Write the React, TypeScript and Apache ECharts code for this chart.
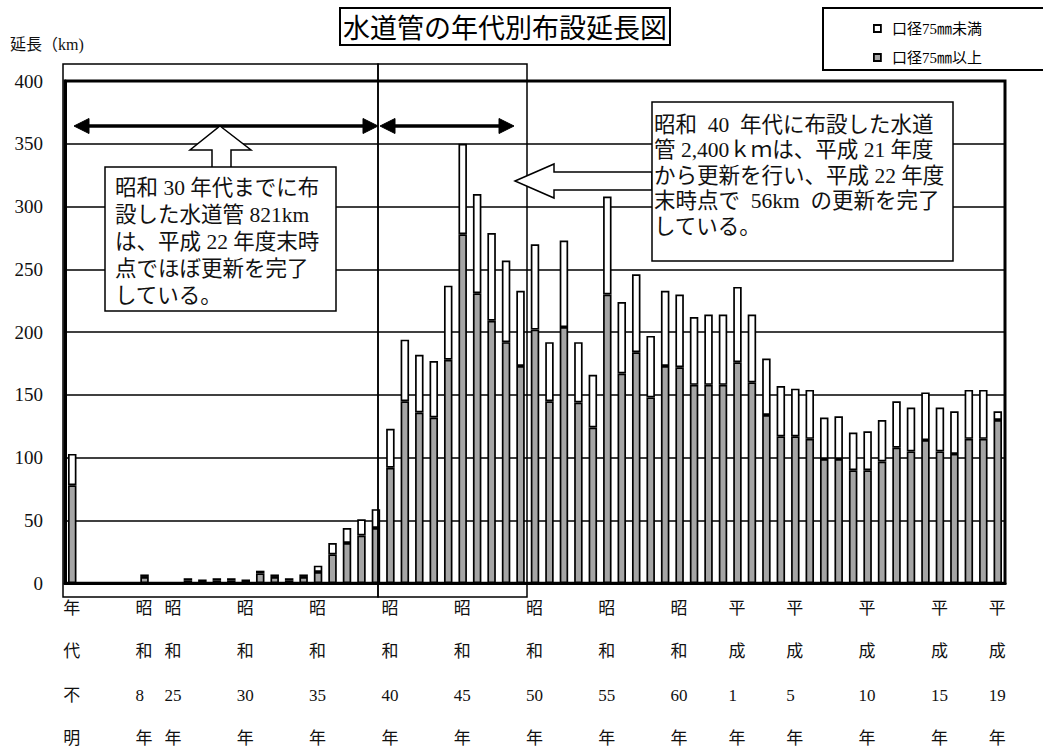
import React, { useEffect, useRef } from "react";
import * as echarts from "echarts";

// 65 categories; "" = unnamed slot in the source
const categories = [
  "年代不明", "", "", "", "", "昭和8年", "", "昭和25年", "昭和26年", "昭和27年",
  "昭和28年", "昭和29年", "昭和30年", "昭和31年", "昭和32年", "昭和33年", "昭和34年", "昭和35年", "昭和36年", "昭和37年",
  "昭和38年", "昭和39年", "昭和40年", "昭和41年", "昭和42年", "昭和43年", "昭和44年", "昭和45年", "昭和46年", "昭和47年",
  "昭和48年", "昭和49年", "昭和50年", "昭和51年", "昭和52年", "昭和53年", "昭和54年", "昭和55年", "昭和56年", "昭和57年",
  "昭和58年", "昭和59年", "昭和60年", "昭和61年", "昭和62年", "昭和63年", "平成1年", "平成2年", "平成3年", "平成4年",
  "平成5年", "平成6年", "平成7年", "平成8年", "平成9年", "平成10年", "平成11年", "平成12年", "平成13年", "平成14年",
  "平成15年", "平成16年", "平成17年", "平成18年", "平成19年",
];

const shownLabels = [
  "年代不明", "昭和8年", "昭和25年", "昭和30年", "昭和35年", "昭和40年", "昭和45年",
  "昭和50年", "昭和55年", "昭和60年", "平成1年", "平成5年", "平成10年", "平成15年", "平成19年",
];

// 口径75㎜以上 (grey, lower part), km
const over75 = [
  78, 0, 0, 0, 0, 5, 0, 0, 2, 1,
  2, 2, 1, 8, 5, 2, 5, 9, 23, 32,
  38, 44, 92, 145, 136, 132, 178, 278, 231, 209,
  192, 173, 202, 145, 204, 144, 124, 230, 167, 184,
  148, 173, 172, 158, 158, 158, 176, 160, 134, 117,
  117, 115, 99, 99, 90, 90, 97, 108, 105, 114,
  105, 103, 115, 115, 130,
];

// 口径75㎜未満 (white, upper part), km
const under75 = [
  25, 0, 0, 0, 0, 2, 0, 0, 2, 2,
  2, 2, 2, 2, 2, 2, 2, 5, 9, 12,
  13, 15, 31, 49, 46, 45, 59, 72, 79, 70,
  65, 60, 68, 47, 69, 48, 42, 78, 57, 62,
  49, 60, 58, 54, 56, 56, 60, 54, 45, 40,
  38, 39, 33, 34, 30, 31, 33, 37, 35, 38,
  35, 34, 39, 39, 7,
];

const yMin = 0;
const yMax = 400;
const yStep = 50;

const seriesNames = ["口径75㎜未満", "口径75㎜以上"];

const serif = "'Liberation Serif', 'Noto Sans CJK JP', serif";

export default function App() {
  const ref = useRef<HTMLDivElement>(null);

  useEffect(() => {
    const chart = echarts.init(ref.current!, null, { renderer: "svg" });

    const arrowHead = (tipX: number, tipY: number, dir: number) => ({
      type: "polygon",
      z: 100,
      shape: {
        points: [
          [tipX, tipY],
          [tipX + dir * 15, tipY - 7.5],
          [tipX + dir * 15, tipY + 7.5],
        ],
      },
      style: { fill: "#000", stroke: "#000", lineWidth: 1 },
    });

    chart.setOption({
      animation: false,
      backgroundColor: "#fff",
      title: {
        text: "水道管の年代別布設延長図",
        left: 340,
        top: 8,
        padding: [3, 3],
        borderColor: "#000",
        borderWidth: 2,
        textStyle: {
          fontSize: 27,
          lineHeight: 31,
          fontWeight: "normal",
          fontFamily: "'Noto Sans CJK JP', sans-serif",
          color: "#000",
        },
      },
      legend: {
        data: seriesNames,
        orient: "vertical",
        left: 868,
        top: 16,
        itemWidth: 7,
        itemHeight: 7,
        itemGap: 14,
        icon: "rect",
        itemStyle: { borderColor: "#000", borderWidth: 1.8 },
        textStyle: { fontSize: 15, fontFamily: serif, color: "#000", padding: [0, 0, 0, 6] },
      },
      grid: {
        left: 65,
        top: 81,
        width: 940,
        height: 505,
        show: true,
        borderColor: "#000",
        borderWidth: 3,
        backgroundColor: "transparent",
      },
      xAxis: {
        type: "category",
        data: categories,
        axisLine: { lineStyle: { color: "#000", width: 3 } },
        axisTick: { show: false },
        axisLabel: {
          interval: 0,
          margin: 3,
          formatter: (val: string) => {
            if (!shownLabels.includes(val)) return "";
            const parts = val.match(/\d+|./g) || [];
            return parts.map((p) => `{a|${p}}`).join("\n");
          },
          rich: {
            a: {
              fontSize: 17,
              fontFamily: serif,
              color: "#111",
              lineHeight: 43.5,
              width: 18,
              align: "left",
            },
          },
        },
      },
      yAxis: {
        type: "value",
        min: yMin,
        max: yMax,
        interval: yStep,
        axisLine: { show: true, lineStyle: { color: "#000", width: 3 } },
        axisTick: { show: false },
        axisLabel: { margin: 22, fontSize: 19, fontFamily: serif, color: "#111" },
        splitLine: { lineStyle: { color: "#000", width: 1.5 } },
      },
      series: [
        {
          name: seriesNames[1],
          type: "bar",
          stack: "total",
          data: over75,
          barWidth: 8.5,
          itemStyle: { color: "#a5a5a5", borderColor: "#000", borderWidth: 1.7 },
        },
        {
          name: seriesNames[0],
          type: "bar",
          stack: "total",
          data: under75,
          barWidth: 8.5,
          itemStyle: { color: "#ffffff", borderColor: "#000", borderWidth: 1.7 },
        },
      ],
      graphic: [
        // y axis title
        {
          type: "text",
          z: 100,
          x: 10,
          y: 36,
          style: { text: "延長（km)", fontSize: 16, fontFamily: serif, fill: "#111" },
        },
        // legend frame
        {
          type: "rect",
          z: 100,
          shape: { x: 823, y: 8, width: 240, height: 62 },
          style: { fill: "transparent", stroke: "#000", lineWidth: 2 },
        },
        // period frames
        {
          type: "rect",
          z: 100,
          shape: { x: 63, y: 64, width: 315, height: 533 },
          style: { fill: "transparent", stroke: "#000", lineWidth: 1.5 },
        },
        {
          type: "rect",
          z: 100,
          shape: { x: 378, y: 64, width: 149, height: 533 },
          style: { fill: "transparent", stroke: "#000", lineWidth: 1.5 },
        },
        // double arrow 1
        {
          type: "line",
          z: 100,
          shape: { x1: 86, y1: 126, x2: 366, y2: 126 },
          style: { stroke: "#000", lineWidth: 3.5 },
        },
        arrowHead(74, 126, 1),
        arrowHead(378, 126, -1),
        // double arrow 2
        {
          type: "line",
          z: 100,
          shape: { x1: 392, y1: 126, x2: 502, y2: 126 },
          style: { stroke: "#000", lineWidth: 3.5 },
        },
        arrowHead(380, 126, 1),
        arrowHead(514, 126, -1),
        // up block arrow
        {
          type: "polygon",
          z: 100,
          shape: {
            points: [
              [220, 126],
              [251, 150],
              [231, 150],
              [231, 168],
              [212, 168],
              [212, 150],
              [190, 150],
            ],
          },
          style: { fill: "#fff", stroke: "#000", lineWidth: 1.5 },
        },
        // text box 1
        {
          type: "rect",
          z: 100,
          shape: { x: 105, y: 167, width: 231, height: 144 },
          style: { fill: "#fff", stroke: "#000", lineWidth: 1.5 },
        },
        {
          type: "text",
          z: 101,
          x: 115,
          y: 174.5,
          style: {
            text: "昭和 30 年代までに布\n設した水道管 821km\nは、平成 22 年度末時\n点でほぼ更新を完了\nしている。",
            fontSize: 21.5,
            fontFamily: serif,
            lineHeight: 27,
            fill: "#111",
            verticalAlign: "top",
          },
        },
        // left block arrow
        {
          type: "polygon",
          z: 100,
          shape: {
            points: [
              [515, 181],
              [554, 164],
              [554, 172],
              [652, 172],
              [652, 190],
              [554, 190],
              [554, 198],
            ],
          },
          style: { fill: "#fff", stroke: "#000", lineWidth: 1.5 },
        },
        // text box 2
        {
          type: "rect",
          z: 100,
          shape: { x: 652, y: 102, width: 301, height: 159 },
          style: { fill: "#fff", stroke: "#000", lineWidth: 1.5 },
        },
        {
          type: "text",
          z: 101,
          x: 654,
          y: 112,
          style: {
            text: "昭和  40  年代に布設した水道\n管 2,400ｋｍは、平成 21 年度\nから更新を行い、平成 22 年度\n末時点で  56km  の更新を完了\nしている。",
            fontSize: 21.5,
            fontFamily: serif,
            lineHeight: 25.5,
            fill: "#111",
            verticalAlign: "top",
          },
        },
      ],
    });

    return () => chart.dispose();
  }, []);

  return (
    <div
      ref={ref}
      style={{ position: "fixed", left: 0, top: 0, width: 1043, height: 747, background: "#fff" }}
    />
  );
}
